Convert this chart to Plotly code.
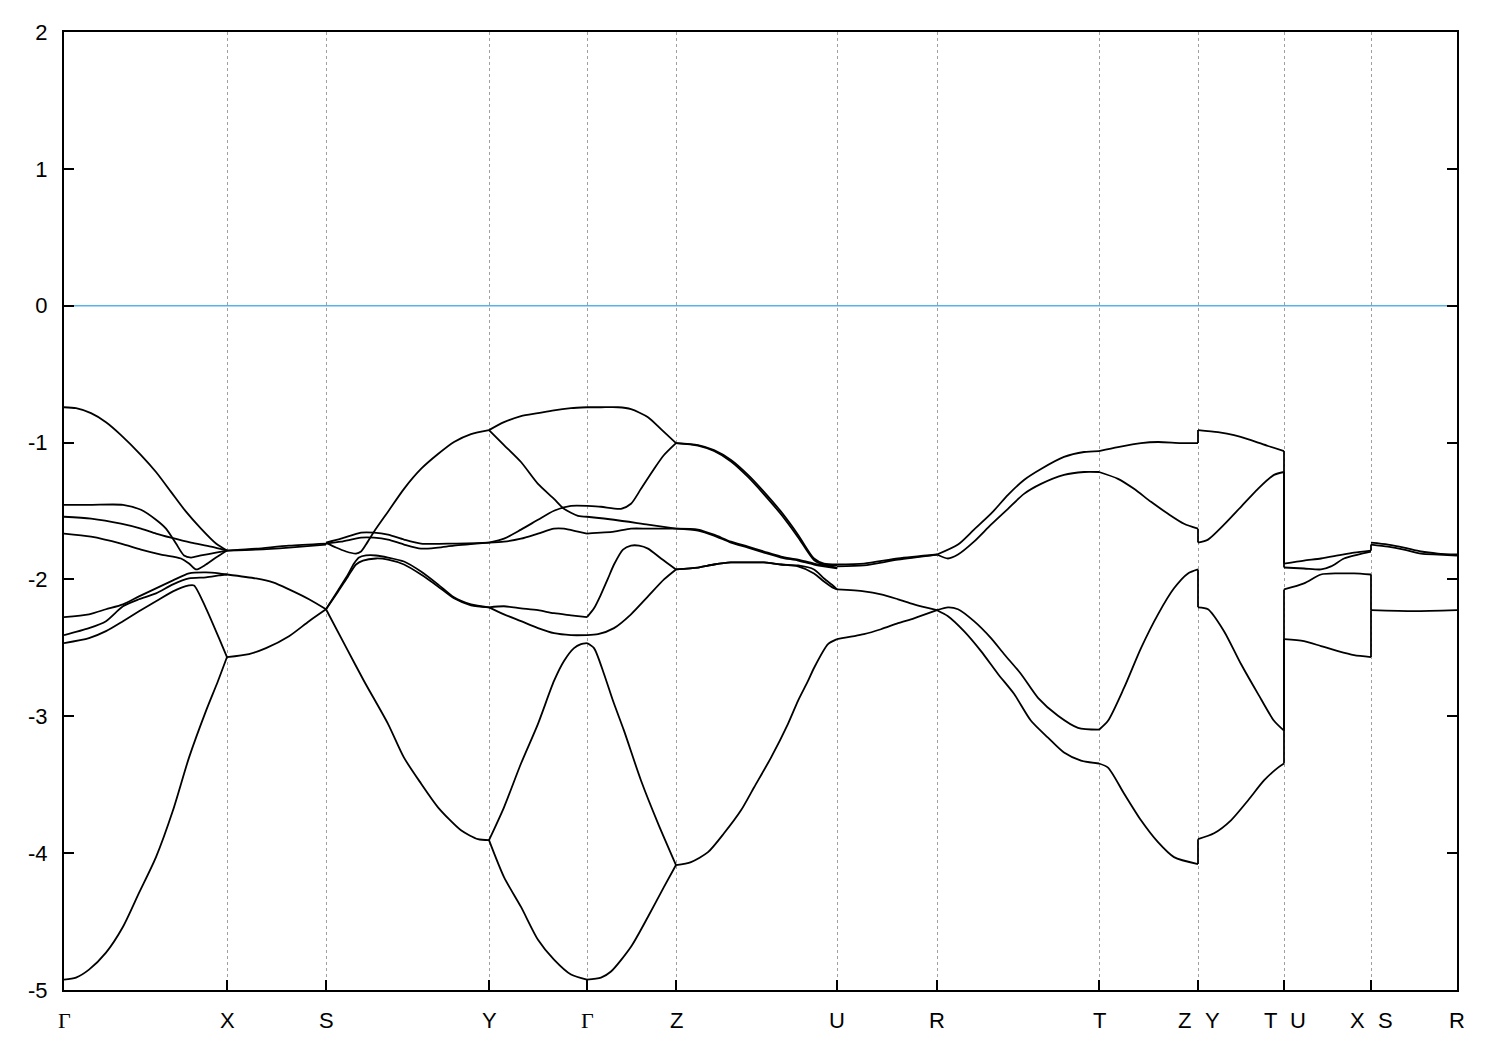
import plotly.graph_objects as go

# ---------------- axis data ----------------
tick_k = [0.0, 1.63, 2.62, 4.25, 5.23, 6.12, 7.73, 8.73, 10.35, 11.34, 12.20, 13.07, 13.93]
tick_lbl = ["Γ", "X", "S", "Y", "Γ", "Z", "U", "R", "T", "Z|Y", "T|U", "X|S", "R"]
y_ticks = [-5, -4, -3, -2, -1, 0, 1, 2]
y_tick_txt = ["-5", "-4", "-3", "-2", "-1", "0", "1", "2"]
fermi_level = 0.0

# ---------------- band data: (k, E[eV]) per line, per path segment ----------------
seg_GX = [
    ([0, 0.12, 0.27, 0.42, 0.57, 0.77, 0.92, 1.07, 1.22, 1.37, 1.52, 1.63],
     [-0.742, -0.749, -0.785, -0.851, -0.945, -1.091, -1.215, -1.360, -1.505, -1.629, -1.738, -1.789]),
    ([0, 0.27, 0.59, 0.77, 0.92, 1.02, 1.12, 1.20, 1.27, 1.37, 1.52, 1.63],
     [-1.455, -1.455, -1.455, -1.491, -1.564, -1.629, -1.738, -1.825, -1.840, -1.825, -1.804, -1.789]),
    ([0, 0.27, 0.57, 0.77, 0.92, 1.07, 1.27, 1.47, 1.63],
     [-1.542, -1.556, -1.593, -1.629, -1.665, -1.695, -1.731, -1.760, -1.789]),
    ([0, 0.27, 0.57, 0.77, 0.97, 1.17, 1.25, 1.32, 1.42, 1.52, 1.63],
     [-1.665, -1.687, -1.738, -1.782, -1.818, -1.847, -1.884, -1.927, -1.891, -1.840, -1.789]),
    ([0, 0.25, 0.42, 0.59, 0.75, 0.92, 1.09, 1.25, 1.42, 1.55, 1.63],
     [-2.276, -2.255, -2.218, -2.182, -2.124, -2.065, -2.007, -1.956, -1.949, -1.956, -1.964]),
    ([0, 0.25, 0.42, 0.59, 0.75, 0.92, 1.09, 1.25, 1.42, 1.55, 1.63],
     [-2.407, -2.356, -2.305, -2.196, -2.145, -2.102, -2.036, -1.993, -1.985, -1.971, -1.964]),
    ([0, 0.25, 0.42, 0.59, 0.75, 0.92, 1.09, 1.25, 1.30, 1.42, 1.55, 1.63],
     [-2.465, -2.429, -2.378, -2.305, -2.233, -2.160, -2.087, -2.044, -2.044, -2.211, -2.429, -2.567]),
    ([0, 0.12, 0.25, 0.42, 0.59, 0.75, 0.92, 1.09, 1.25, 1.42, 1.54, 1.63],
     [-4.924, -4.909, -4.851, -4.727, -4.538, -4.291, -4.029, -3.687, -3.302, -2.960, -2.742, -2.567]),
]

seg_XS = [
    ([1.63, 1.92, 2.25, 2.62], [-1.789, -1.775, -1.753, -1.738]),
    ([1.63, 1.92, 2.25, 2.62], [-1.789, -1.782, -1.767, -1.745]),
    ([1.63, 1.92, 2.09, 2.25, 2.45, 2.62], [-1.964, -1.993, -2.022, -2.073, -2.145, -2.218]),
    ([1.63, 1.85, 2.02, 2.25, 2.45, 2.62], [-2.567, -2.545, -2.502, -2.415, -2.305, -2.218]),
]

seg_SY = [
    ([2.62, 2.72, 2.82, 2.92, 2.97, 3.02, 3.10, 3.24, 3.40, 3.57, 3.74, 3.90, 4.07, 4.25],
     [-1.731, -1.767, -1.796, -1.811, -1.796, -1.745, -1.651, -1.505, -1.338, -1.193, -1.084, -0.996, -0.938, -0.909]),
    ([2.62, 2.74, 2.84, 2.90, 2.95, 3.02, 3.12, 3.24, 3.40, 3.57, 3.74, 3.90, 4.07, 4.25],
     [-2.218, -2.080, -1.964, -1.884, -1.840, -1.825, -1.825, -1.840, -1.869, -1.942, -2.036, -2.131, -2.182, -2.204]),
    ([2.62, 2.74, 2.84, 2.92, 2.99, 3.12, 3.24, 3.40, 3.57, 3.74, 3.90, 4.07, 4.25],
     [-2.218, -2.090, -1.978, -1.891, -1.862, -1.847, -1.855, -1.891, -1.964, -2.051, -2.138, -2.189, -2.204]),
    ([2.62, 2.82, 3.00, 3.24, 3.40, 3.57, 3.74, 3.97, 4.14, 4.25],
     [-2.218, -2.495, -2.742, -3.055, -3.302, -3.491, -3.665, -3.833, -3.898, -3.905]),
    ([2.62, 2.77, 2.97, 3.10, 3.24, 3.40, 3.57, 3.90, 4.25],
     [-1.731, -1.702, -1.658, -1.658, -1.673, -1.709, -1.738, -1.738, -1.731]),
    ([2.62, 2.77, 2.97, 3.10, 3.24, 3.40, 3.57, 3.74, 3.90, 4.25],
     [-1.738, -1.724, -1.695, -1.695, -1.709, -1.745, -1.775, -1.767, -1.753, -1.731]),
]

seg_YG = [
    ([4.25, 4.40, 4.57, 4.74, 4.90, 5.07, 5.23], [-0.909, -0.851, -0.807, -0.785, -0.764, -0.749, -0.742]),
    ([4.25, 4.40, 4.57, 4.74, 4.90, 5.00, 5.14, 5.23], [-0.909, -1.018, -1.142, -1.302, -1.411, -1.484, -1.535, -1.542]),
    ([4.25, 4.40, 4.57, 4.74, 4.90, 5.07, 5.23], [-1.731, -1.702, -1.636, -1.564, -1.498, -1.462, -1.462]),
    ([4.25, 4.40, 4.57, 4.74, 4.90, 5.00, 5.14, 5.23], [-1.731, -1.724, -1.702, -1.665, -1.629, -1.629, -1.651, -1.665]),
    ([4.25, 4.40, 4.57, 4.74, 4.90, 5.07, 5.23], [-2.204, -2.196, -2.211, -2.225, -2.247, -2.262, -2.276]),
    ([4.25, 4.40, 4.57, 4.74, 4.90, 5.07, 5.23], [-2.204, -2.255, -2.305, -2.356, -2.393, -2.407, -2.407]),
    ([4.25, 4.40, 4.57, 4.74, 4.90, 5.00, 5.10, 5.17, 5.23], [-3.905, -3.665, -3.345, -3.055, -2.742, -2.596, -2.502, -2.473, -2.465]),
    ([4.25, 4.40, 4.57, 4.74, 4.90, 5.07, 5.23], [-3.905, -4.175, -4.393, -4.633, -4.778, -4.887, -4.924]),
]

seg_GZ = [
    ([5.23, 5.37, 5.54, 5.67, 5.84, 5.97, 6.12], [-0.742, -0.742, -0.742, -0.756, -0.815, -0.902, -1.004]),
    ([5.23, 5.37, 5.57, 5.67, 5.77, 5.90, 6.00, 6.12], [-1.462, -1.469, -1.484, -1.447, -1.338, -1.193, -1.091, -1.004]),
    ([5.23, 5.50, 5.84, 6.12], [-1.542, -1.564, -1.600, -1.629]),
    ([5.23, 5.50, 5.67, 5.84, 6.12], [-1.665, -1.651, -1.629, -1.629, -1.629]),
    ([5.23, 5.30, 5.37, 5.44, 5.50, 5.59, 5.67, 5.75, 5.84, 5.97, 6.12],
     [-2.276, -2.211, -2.109, -1.993, -1.891, -1.782, -1.753, -1.753, -1.775, -1.847, -1.927]),
    ([5.23, 5.34, 5.50, 5.67, 5.84, 6.00, 6.12], [-2.407, -2.400, -2.356, -2.255, -2.124, -2.000, -1.927]),
    ([5.23, 5.30, 5.40, 5.49, 5.60, 5.77, 5.94, 6.12], [-2.465, -2.502, -2.691, -2.887, -3.105, -3.469, -3.782, -4.087]),
    ([5.23, 5.37, 5.47, 5.67, 5.84, 6.00, 6.12], [-4.924, -4.909, -4.865, -4.684, -4.465, -4.247, -4.087]),
]

seg_ZU = [
    ([6.12, 6.34, 6.50, 6.67, 6.84, 7.00, 7.17, 7.34, 7.50, 7.60, 7.73],
     [-1.004, -1.018, -1.055, -1.127, -1.236, -1.360, -1.505, -1.673, -1.847, -1.884, -1.891]),
    ([6.12, 6.34, 6.50, 6.67, 6.84, 7.00, 7.17, 7.34, 7.50, 7.60, 7.73],
     [-1.004, -1.022, -1.062, -1.138, -1.251, -1.378, -1.524, -1.691, -1.858, -1.891, -1.898]),
    ([6.12, 6.34, 6.50, 6.67, 6.84, 7.00, 7.17, 7.34, 7.50, 7.73],
     [-1.629, -1.636, -1.673, -1.724, -1.760, -1.796, -1.833, -1.855, -1.884, -1.913]),
    ([6.12, 6.34, 6.50, 6.67, 6.84, 7.00, 7.17, 7.34, 7.50, 7.73],
     [-1.629, -1.644, -1.680, -1.731, -1.767, -1.804, -1.840, -1.862, -1.891, -1.920]),
    ([6.12, 6.34, 6.50, 6.67, 6.84, 7.00, 7.17, 7.34, 7.50, 7.60, 7.70, 7.73],
     [-1.927, -1.913, -1.891, -1.876, -1.876, -1.876, -1.891, -1.905, -1.956, -2.015, -2.065, -2.073]),
    ([6.12, 6.34, 6.50, 6.67, 6.84, 7.00, 7.17, 7.34, 7.50, 7.60, 7.70, 7.73],
     [-1.927, -1.913, -1.891, -1.876, -1.876, -1.876, -1.891, -1.898, -1.927, -1.993, -2.051, -2.073]),
    ([6.12, 6.27, 6.44, 6.60, 6.77, 6.90, 7.07, 7.24, 7.34, 7.44, 7.50, 7.64, 7.73],
     [-4.087, -4.065, -3.993, -3.855, -3.687, -3.520, -3.302, -3.055, -2.887, -2.742, -2.647, -2.473, -2.436]),
]

seg_UR = [
    ([7.73, 8.00, 8.34, 8.73], [-1.891, -1.884, -1.847, -1.818]),
    ([7.73, 8.00, 8.34, 8.73], [-1.905, -1.898, -1.855, -1.818]),
    ([7.73, 8.00, 8.17, 8.34, 8.50, 8.73], [-2.073, -2.087, -2.109, -2.145, -2.182, -2.225]),
    ([7.73, 8.00, 8.17, 8.34, 8.50, 8.73], [-2.436, -2.400, -2.364, -2.320, -2.284, -2.225]),
]

seg_RT = [
    ([8.73, 8.94, 9.10, 9.27, 9.44, 9.60, 9.77, 10.00, 10.20, 10.35],
     [-1.818, -1.745, -1.636, -1.520, -1.382, -1.273, -1.193, -1.105, -1.069, -1.062]),
    ([8.73, 8.84, 8.94, 9.10, 9.27, 9.44, 9.60, 9.77, 10.00, 10.20, 10.35],
     [-1.818, -1.847, -1.818, -1.724, -1.600, -1.484, -1.375, -1.302, -1.236, -1.215, -1.215]),
    ([8.73, 8.84, 8.94, 9.10, 9.27, 9.40, 9.57, 9.74, 9.94, 10.14, 10.35],
     [-2.225, -2.204, -2.218, -2.305, -2.429, -2.545, -2.691, -2.865, -2.996, -3.084, -3.098]),
    ([8.73, 8.84, 9.00, 9.17, 9.34, 9.50, 9.67, 9.84, 10.00, 10.17, 10.35],
     [-2.225, -2.269, -2.378, -2.524, -2.691, -2.836, -3.033, -3.156, -3.265, -3.324, -3.345]),
]

seg_TZ = [
    ([10.35, 10.54, 10.77, 10.94, 11.17, 11.34], [-1.062, -1.033, -1.004, -0.996, -1.004, -1.004]),
    ([10.35, 10.54, 10.70, 10.87, 11.04, 11.20, 11.34], [-1.215, -1.265, -1.338, -1.433, -1.520, -1.593, -1.629]),
    ([10.35, 10.44, 10.60, 10.77, 10.94, 11.10, 11.24, 11.34], [-3.098, -3.033, -2.793, -2.502, -2.255, -2.065, -1.956, -1.927]),
    ([10.35, 10.44, 10.60, 10.77, 10.94, 11.10, 11.34], [-3.345, -3.375, -3.564, -3.760, -3.920, -4.029, -4.080]),
]

seg_YT = [
    ([11.34, 11.54, 11.70, 11.87, 12.04, 12.20], [-0.909, -0.924, -0.945, -0.982, -1.025, -1.062]),
    ([11.34, 11.44, 11.60, 11.77, 11.94, 12.10, 12.20], [-1.731, -1.709, -1.600, -1.469, -1.338, -1.236, -1.215]),
    ([11.34, 11.44, 11.60, 11.77, 11.94, 12.10, 12.20], [-2.204, -2.218, -2.378, -2.618, -2.836, -3.033, -3.105]),
    ([11.34, 11.50, 11.67, 11.84, 12.00, 12.14, 12.20], [-3.898, -3.855, -3.760, -3.615, -3.469, -3.375, -3.345]),
]

seg_UX = [
    ([12.20, 12.40, 12.57, 12.74, 12.90, 13.07], [-1.884, -1.862, -1.847, -1.825, -1.804, -1.789]),
    ([12.20, 12.40, 12.57, 12.67, 12.80, 12.94, 13.07], [-1.913, -1.920, -1.927, -1.905, -1.847, -1.818, -1.796]),
    ([12.20, 12.40, 12.57, 12.74, 12.90, 13.07], [-2.073, -2.029, -1.964, -1.956, -1.956, -1.964]),
    ([12.20, 12.40, 12.57, 12.74, 12.90, 13.07], [-2.436, -2.451, -2.487, -2.524, -2.553, -2.567]),
]

seg_SR = [
    ([13.07, 13.24, 13.40, 13.57, 13.74, 13.93], [-1.745, -1.760, -1.782, -1.811, -1.818, -1.825]),
    ([13.07, 13.24, 13.40, 13.57, 13.74, 13.93], [-1.731, -1.745, -1.767, -1.796, -1.811, -1.818]),
    ([13.07, 13.50, 13.93], [-2.225, -2.232, -2.225]),
]

# discontinuities in the path: energies on the left and right side of the joint
jump_ZY = (11.34, [(-1.004, -0.909), (-1.629, -1.731), (-1.927, -2.204), (-4.080, -3.898)])
jump_TU = (12.20, [(-1.062, -1.884), (-1.215, -1.913), (-3.105, -2.073), (-3.345, -2.436)])
jump_XS = (13.07, [(-1.789, -1.745), (-1.964, -2.225), (-2.567, -2.225)])

# ---------------- build figure ----------------
bx, by = [], []
for seg in [seg_GX, seg_XS, seg_SY, seg_YG, seg_GZ, seg_ZU, seg_UR, seg_RT, seg_TZ, seg_YT, seg_UX, seg_SR]:
    for k, e in seg:
        bx += list(k) + [None]
        by += list(e) + [None]
jx, jy = [], []
for kj, pairs in [jump_ZY, jump_TU, jump_XS]:
    for a, b in pairs:
        jx += [kj, kj, None]
        jy += [a, b, None]

fig = go.Figure()
fig.add_trace(go.Scatter(x=[tick_k[0], tick_k[-1]], y=[fermi_level, fermi_level], mode="lines",
                         line=dict(color="#56b4e9", width=1.6), hoverinfo="skip", showlegend=False))
fig.add_trace(go.Scatter(x=bx, y=by, mode="lines",
                         line=dict(color="black", width=1.8, shape="spline", smoothing=0.7),
                         hoverinfo="skip", showlegend=False, connectgaps=False))
fig.add_trace(go.Scatter(x=jx, y=jy, mode="lines", line=dict(color="black", width=1.8),
                         hoverinfo="skip", showlegend=False, connectgaps=False))

font_main = "Liberation Sans, Arial, sans-serif"
annotations = []
for k, lbl in zip(tick_k, tick_lbl):
    parts = lbl.split("|")
    shifts = [0] if len(parts) == 1 else [-14, 14]
    for p, sh in zip(parts, shifts):
        fam = "Liberation Serif, Times New Roman, serif" if p == "Γ" else font_main
        annotations.append(dict(x=k, y=0, xref="x", yref="paper", text=p, showarrow=False,
                                xanchor="center", yanchor="middle", xshift=sh, yshift=-30,
                                font=dict(family=fam, size=22, color="black")))

fig.update_layout(
    width=1500, height=1050,
    margin=dict(l=56, r=51, t=19, b=68),
    paper_bgcolor="white", plot_bgcolor="white",
    font=dict(family=font_main, size=22, color="black"),
    annotations=annotations,
    showlegend=False,
)
fig.update_xaxes(range=[tick_k[0], tick_k[-1]], tickmode="array", tickvals=tick_k,
                 showticklabels=False, ticks="inside", ticklen=10, tickwidth=1.5, tickcolor="black",
                 showgrid=True, gridcolor="#a0a0a0", gridwidth=1, griddash="3px,3px",
                 showline=True, linecolor="black", linewidth=2, mirror=True, zeroline=False)
fig.update_yaxes(range=[-5, 2], tickmode="array", tickvals=y_ticks, ticktext=y_tick_txt,
                 ticks="inside", ticklen=10, tickwidth=1.5, tickcolor="black",
                 ticklabelstandoff=10,
                 tickfont=dict(family=font_main, size=22, color="black"),
                 showgrid=False, showline=True, linecolor="black", linewidth=2, mirror="ticks",
                 zeroline=False)

fig.write_html("out.html")
